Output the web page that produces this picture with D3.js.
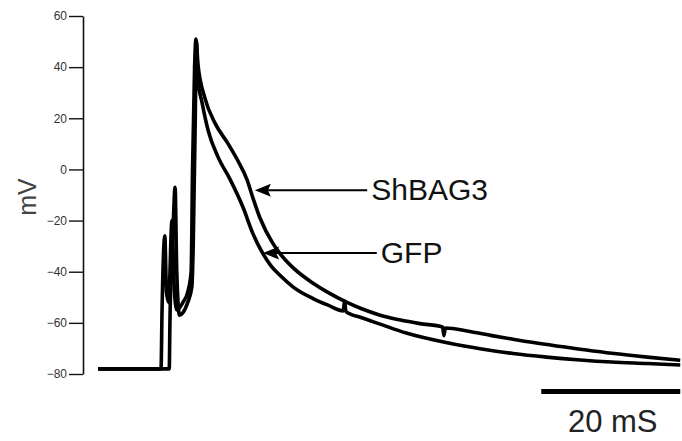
<!DOCTYPE html>
<html>
<head>
<meta charset="utf-8">
<script src="https://cdn.jsdelivr.net/npm/d3@7"></script>
<style>
  html, body { margin: 0; padding: 0; background: #fff; }
  svg { display: block; }
</style>
</head>
<body>
<svg id="chart" width="682" height="441"></svg>
<script>
// ---- Data (time in ms, membrane potential in mV) ----
const yTicks = [-80, -60, -40, -20, 0, 20, 40, 60];
const yLabel = "mV";

const shbag3Time = [0, 9.2, 9.35, 9.75, 10.0, 10.3, 10.8, 11.1, 11.5, 12.4, 13.1, 13.6, 13.8, 14.1, 14.3, 14.6, 15.6, 17.1, 19.0, 20.5, 21.75, 22.6, 23.65, 25.55, 26.6, 28.5, 31.4, 33.5, 36.35, 38.5, 41.2, 44.0, 47.0, 50.3, 50.5, 50.7, 54.3, 57.5, 60.6, 65.0, 70.4, 75.0, 80.2, 85];
const shbag3mV   = [-78, -78, -55, -26, -48, -52, -20, -45, -55, -52, -48, -40, 0, 40, 51, 41, 28, 18, 10, 3, -4, -11, -19, -29, -33, -38.5, -44.5, -48, -52, -54.5, -57, -58.8, -60.3, -61.6, -65, -62, -63.4, -65, -66.4, -68.3, -70.3, -71.9, -73.4, -74.6];

const gfpTime = [0, 10.4, 10.5, 11.0, 11.25, 11.5, 11.9, 12.4, 13.1, 13.7, 13.9, 14.2, 14.35, 14.6, 15.2, 16.1, 17.5, 19.3, 21.2, 22.6, 24.1, 25.2, 26.6, 28.5, 31.4, 33.5, 35.8, 36.0, 36.2, 38.5, 41.2, 45.0, 51.0, 56.0, 60.6, 65.5, 70.4, 75.0, 80.2, 85];
const gfpmV   = [-78, -78, -60, -20, -7, -40, -57, -56, -52, -46, -30, 20, 50, 35, 26, 15, 5, -4, -15, -25, -33, -37.5, -41.5, -46, -50.5, -53, -55.3, -51.5, -55.6, -58, -60.5, -64, -67.8, -70.2, -72, -73.4, -74.5, -75.3, -75.9, -76.5];

// annotations: label, arrow tip (ms, mV), arrow tail (ms)
const annotLabels = ["ShBAG3", "GFP"];
const annotTipTime = [22.9, 24.1];
const annotTipmV = [-8.1, -32.7];
const annotTailTime = [39.3, 40.7];

const scaleBarStart = 65, scaleBarEnd = 85; // ms
const scaleBarLabel = "20 mS";

// ---- Layout ----
const svg = d3.select("#chart");
const x = d3.scaleLinear().domain([0, 85]).range([98, 680.25]);
const y = d3.scaleLinear().domain([-80, 60]).range([374, 16]);
const axisX = 83;

// Y axis
const yAxis = d3.axisLeft(y).tickValues(yTicks).tickSize(14).tickSizeOuter(0).tickPadding(2);
const gy = svg.append("g").attr("transform", `translate(${axisX},0)`).call(yAxis);
gy.select(".domain").attr("stroke", "#111").attr("stroke-width", 1.6);
gy.selectAll(".tick line").attr("stroke", "#111").attr("stroke-width", 1.4);
gy.selectAll(".tick text").attr("font-family", "Liberation Sans, Arial, sans-serif")
  .attr("font-size", 12).attr("fill", "#333");

svg.append("text")
  .attr("transform", "translate(36,197) rotate(-90)")
  .attr("text-anchor", "middle")
  .attr("font-family", "Liberation Sans, Arial, sans-serif")
  .attr("font-size", 25).attr("fill", "#444")
  .text(yLabel);

// Traces
const line = d3.line().x(d => x(d[0])).y(d => y(d[1])).curve(d3.curveMonotoneX);
const series = [
  d3.zip(shbag3Time, shbag3mV),
  d3.zip(gfpTime, gfpmV)
];
svg.selectAll("path.trace").data(series).join("path")
  .attr("class", "trace")
  .attr("d", line)
  .attr("fill", "none")
  .attr("stroke", "#000")
  .attr("stroke-width", 3.6)
  .attr("stroke-linejoin", "round");

// Annotations
annotLabels.forEach((lab, i) => {
  const tx = x(annotTipTime[i]), ty = y(annotTipmV[i]), ex = x(annotTailTime[i]);
  svg.append("line").attr("x1", tx + 10).attr("y1", ty).attr("x2", ex).attr("y2", ty)
    .attr("stroke", "#000").attr("stroke-width", 2);
  svg.append("path")
    .attr("d", `M${tx},${ty} L${tx + 16},${ty - 6.5} L${tx + 13},${ty} L${tx + 16},${ty + 6.5} Z`)
    .attr("fill", "#000");
  svg.append("text").attr("x", ex + 4).attr("y", ty + 10)
    .attr("font-family", "Liberation Sans, Arial, sans-serif")
    .attr("font-size", 30).attr("fill", "#111")
    .text(lab);
});

// Scale bar
svg.append("line")
  .attr("x1", x(scaleBarStart) - 2).attr("x2", x(scaleBarEnd))
  .attr("y1", 391.5).attr("y2", 391.5)
  .attr("stroke", "#000").attr("stroke-width", 5);
svg.append("text")
  .attr("x", (x(scaleBarStart) + x(scaleBarEnd)) / 2 + 1).attr("y", 432)
  .attr("text-anchor", "middle")
  .attr("font-family", "Liberation Sans, Arial, sans-serif")
  .attr("font-size", 31).attr("fill", "#222")
  .text(scaleBarLabel);
</script>
</body>
</html>
